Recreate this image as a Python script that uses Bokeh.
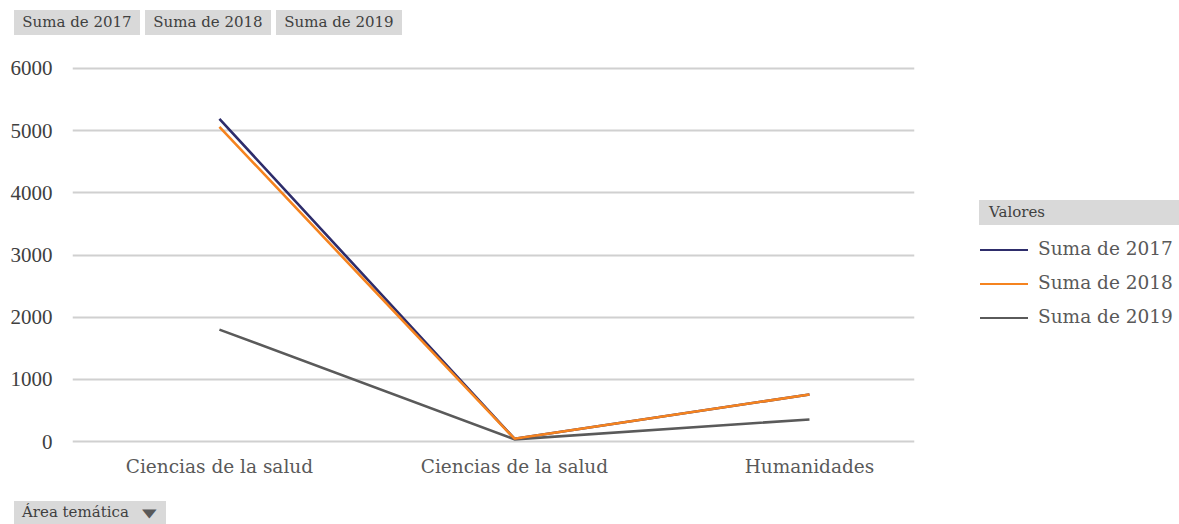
from bokeh.plotting import figure
from bokeh.models import FixedTicker, Range1d, ColumnDataSource, Div
from bokeh.layouts import column, row
from bokeh.embed import file_html
from bokeh.resources import INLINE

# ---- data ----
categories = ["Ciencias de la salud", "Ciencias de la salud", "Humanidades"]
suma_2017 = [5190, 45, 757]
suma_2018 = [5060, 45, 757]
suma_2019 = [1800, 35, 355]
series_names = ["Suma de 2017", "Suma de 2018", "Suma de 2019"]
y_ticks = [0, 1000, 2000, 3000, 4000, 5000, 6000]
legend_title = "Valores"
field_label = "Área temática"

colors = ["#2e2d6b", "#f5831f", "#5a5a5a"]
TEXT_FONT = "DejaVu Serif"
NUM_FONT = "Liberation Serif"

TOTAL_W, TOTAL_H = 1179, 524
TOP_H = 45          # top strip with field buttons
BOT_H = 29          # bottom strip with axis field button
PLOT_W = 975        # main figure width
LEG_W = TOTAL_W - PLOT_W
PLOT_H = TOTAL_H - TOP_H - BOT_H

# ---- main figure ----
xs = list(range(len(categories)))
p = figure(width=PLOT_W, height=PLOT_H, output_backend="svg", toolbar_location=None,
           x_range=Range1d(-0.498, 2.356), y_range=Range1d(-48, 6048),
           min_border_left=72, min_border_right=PLOT_W - 914,
           min_border_top=20, min_border_bottom=51)
p.outline_line_color = None
p.background_fill_color = "white"
p.border_fill_color = "white"

src = ColumnDataSource(dict(x=xs, s2017=suma_2017, s2018=suma_2018, s2019=suma_2019))
p.line("x", "s2019", source=src, line_color=colors[2], line_width=2.6)
p.line("x", "s2017", source=src, line_color=colors[0], line_width=2.6)
p.line("x", "s2018", source=src, line_color=colors[1], line_width=2.6)

p.xaxis.ticker = FixedTicker(ticks=xs)
p.xaxis.major_label_overrides = {i: c for i, c in enumerate(categories)}
p.yaxis.ticker = FixedTicker(ticks=y_ticks)
for ax in (p.xaxis[0], p.yaxis[0]):
    ax.axis_line_color = None
    ax.major_tick_line_color = None
    ax.minor_tick_line_color = None
    ax.major_tick_in = 0
    ax.major_tick_out = 0
    ax.minor_tick_in = 0
    ax.minor_tick_out = 0
p.yaxis.major_label_text_font = NUM_FONT
p.yaxis.major_label_text_font_size = "21px"
p.yaxis.major_label_text_color = "#404040"
p.yaxis.major_label_standoff = 20
p.xaxis.major_label_text_font = TEXT_FONT
p.xaxis.major_label_text_font_size = "18.5px"
p.xaxis.major_label_text_color = "#595959"
p.xaxis.major_label_standoff = 11

p.xgrid.grid_line_color = None
p.ygrid.ticker = FixedTicker(ticks=y_ticks)
p.ygrid.grid_line_color = "#d0d0d0"
p.ygrid.grid_line_width = 2

# ---- decorations (pivot-chart field buttons and legend) ----
BTN = ("position:absolute;background:#d9d9d9;color:#404040;font-size:15px;"
       "height:25px;line-height:25px;white-space:nowrap;")

top_html = f'<div style="position:relative;width:{TOTAL_W}px;height:{TOP_H}px;font-family:\'{TEXT_FONT}\';">'
for left, name in zip([14, 145, 276], series_names):
    top_html += (f'<div style="{BTN}left:{left}px;top:10px;width:126px;text-align:center;">'
                 f'{name}</div>')
top_html += '</div>'
top_div = Div(text=top_html, width=TOTAL_W, height=TOP_H, margin=0)

bot_html = (f'<div style="position:relative;width:{TOTAL_W}px;height:{BOT_H}px;font-family:\'{TEXT_FONT}\';">'
            f'<div style="{BTN}left:14px;top:6px;width:152px;height:23px;line-height:23px;">'
            f'<span style="position:absolute;left:8px;top:0;">{field_label}</span>'
            '<span style="position:absolute;left:128px;top:0;font-family:\'DejaVu Sans\';'
            'font-size:19px;color:#595959;transform:scale(1,0.62);">▼</span>'
            '</div></div>')
bot_div = Div(text=bot_html, width=TOTAL_W, height=BOT_H, margin=0)

leg_html = (f'<div style="position:relative;width:{LEG_W}px;height:{PLOT_H}px;font-family:\'{TEXT_FONT}\';">'
            f'<div style="{BTN}left:4px;top:155px;width:200px;padding-left:10px;box-sizing:border-box;">'
            f'{legend_title}</div>')
for i, (name, col) in enumerate(zip(series_names, colors)):
    yc = 205 + 34 * i
    leg_html += (f'<div style="position:absolute;left:5px;top:{yc - 1.25}px;width:48px;height:2.5px;'
                 f'background:{col};"></div>'
                 f'<div style="position:absolute;left:63px;top:{yc - 13}px;height:24px;line-height:24px;'
                 f'font-size:18.5px;color:#595959;white-space:nowrap;">{name}</div>')
leg_html += '</div>'
leg_div = Div(text=leg_html, width=LEG_W, height=PLOT_H, margin=0)

layout = column(top_div, row(p, leg_div, spacing=0), bot_div, spacing=0)

open("out.html", "w").write(file_html(layout, INLINE))
